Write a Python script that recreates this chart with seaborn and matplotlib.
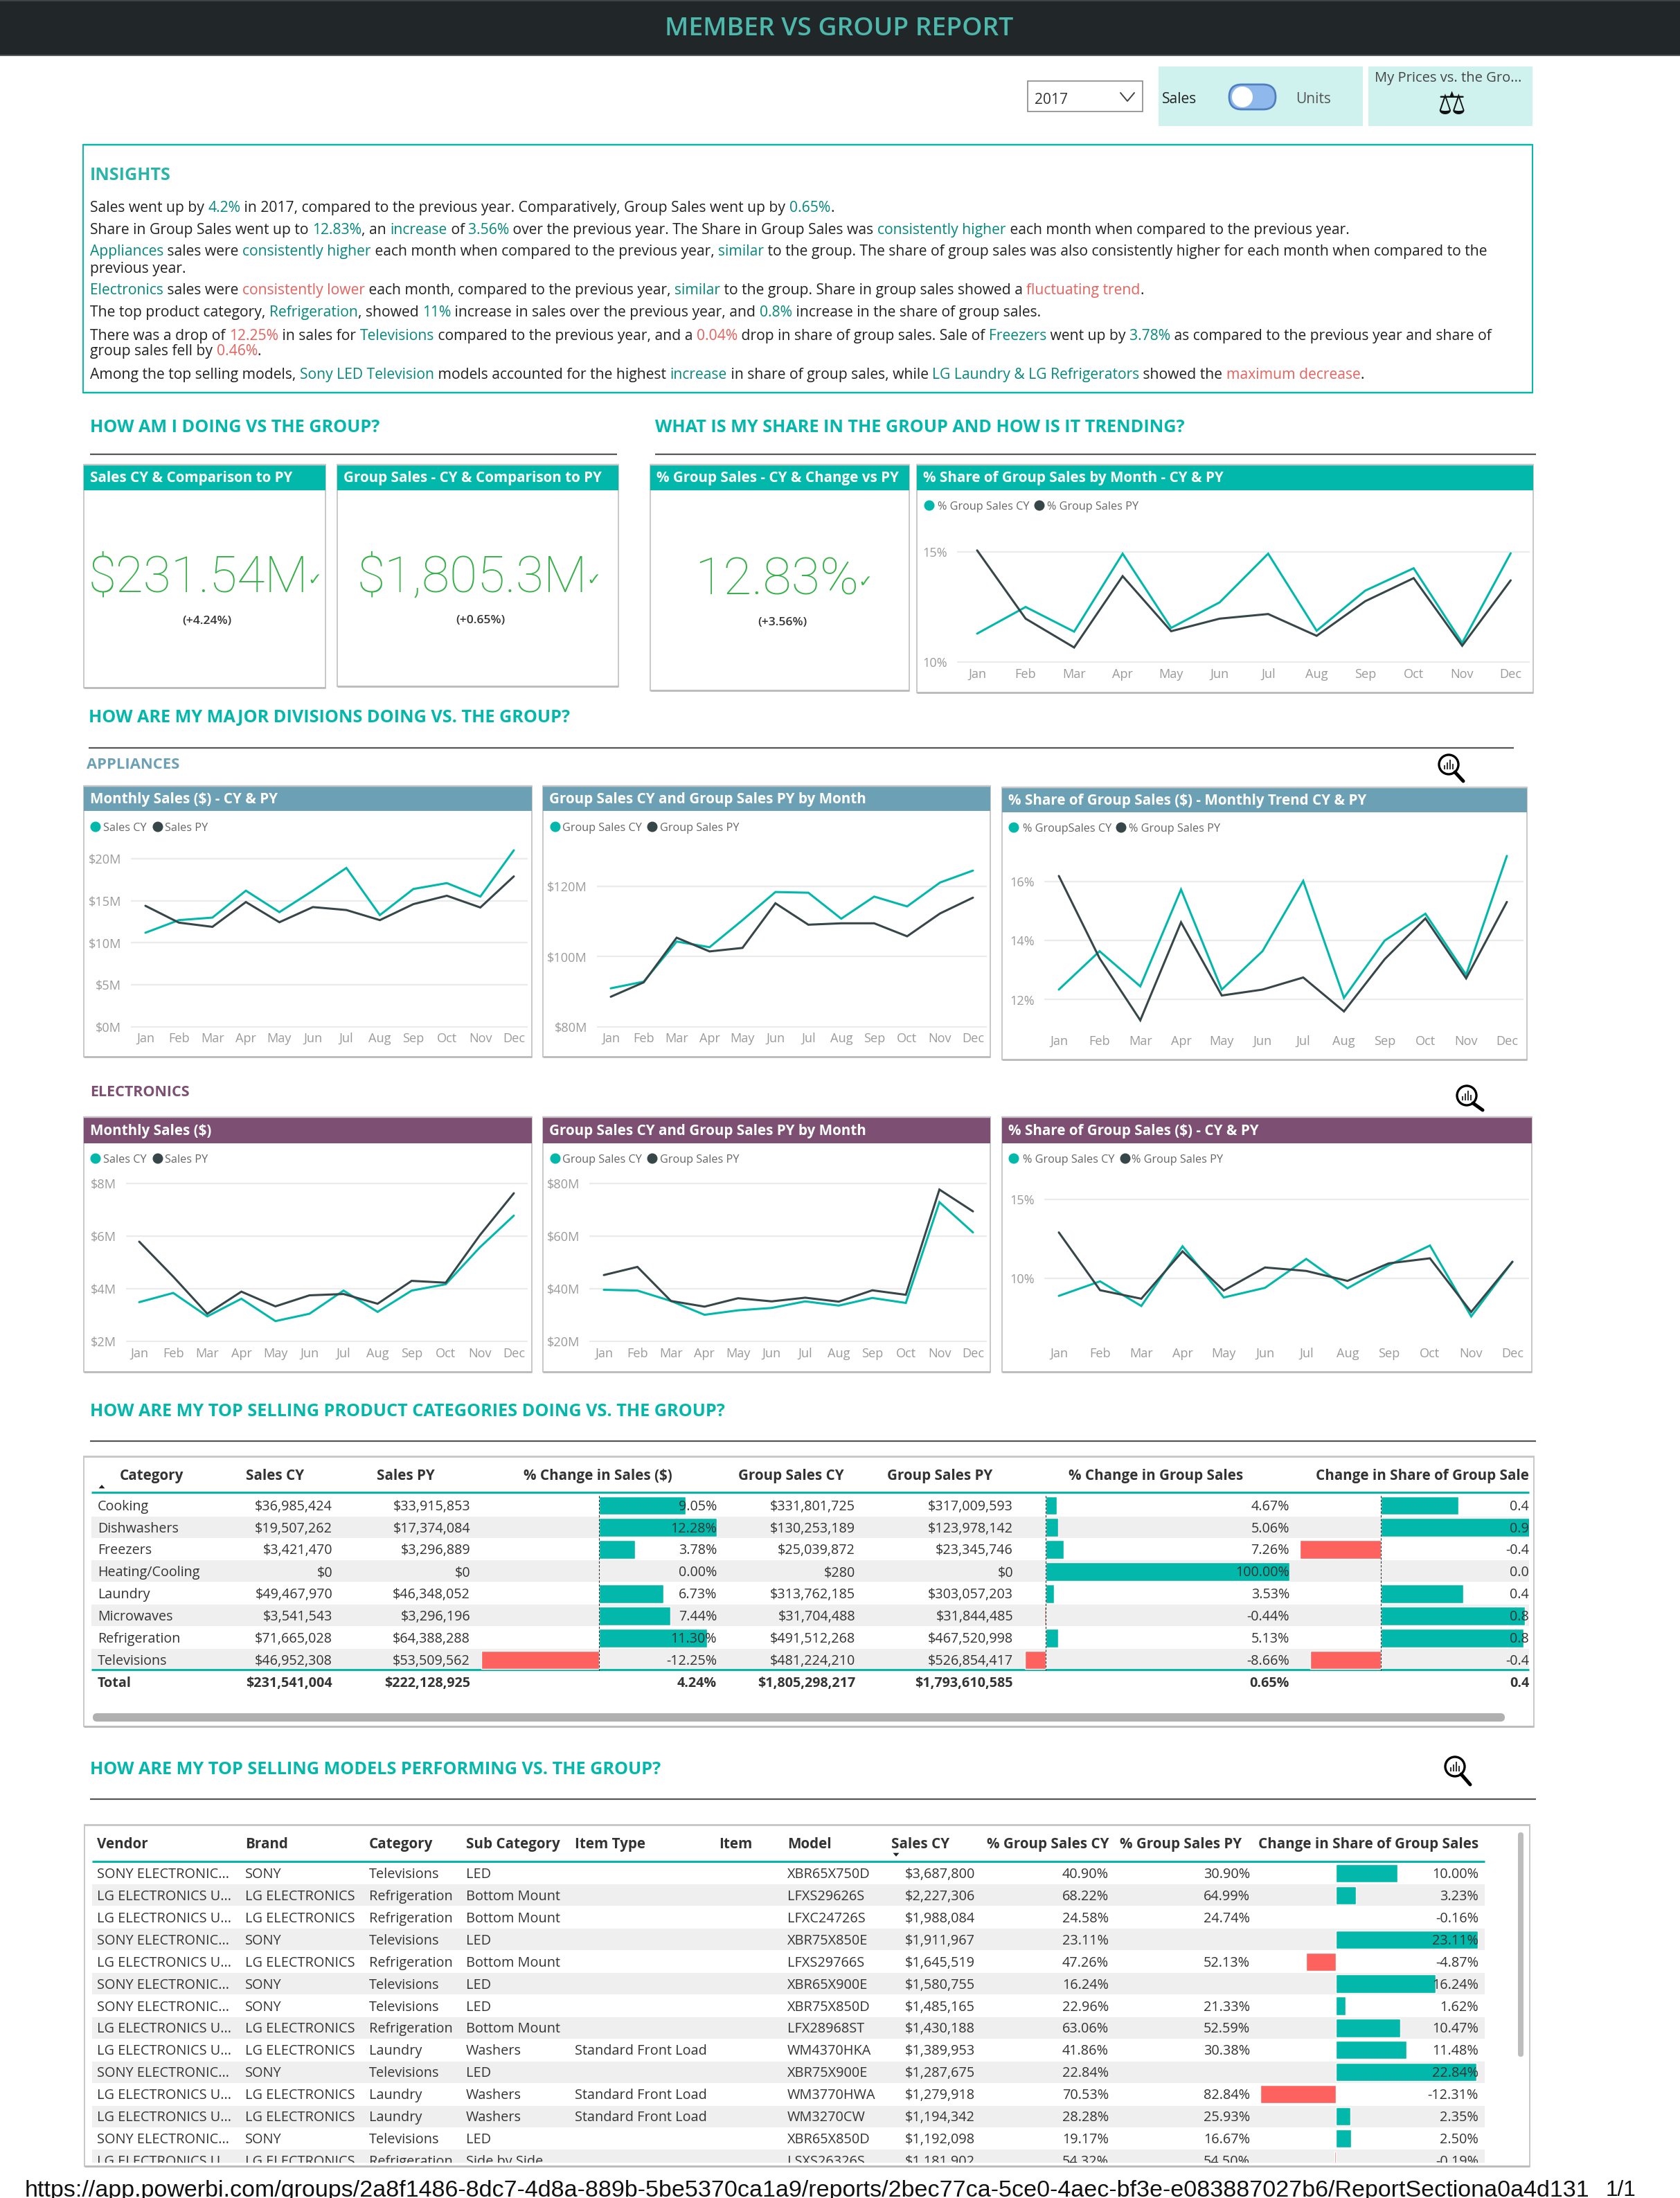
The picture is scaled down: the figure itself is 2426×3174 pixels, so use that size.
import re
import pandas as pd
import matplotlib
matplotlib.use("Agg")
import matplotlib.pyplot as plt
from matplotlib.font_manager import FontProperties
from matplotlib.patches import Rectangle, Circle, FancyBboxPatch, Polygon
import seaborn as sns

MONTHS = ["Jan","Feb","Mar","Apr","May","Jun","Jul","Aug","Sep","Oct","Nov","Dec"]

SHARE_CY = [11.29,12.5,11.38,14.92,11.55,12.71,14.92,11.42,13.24,14.26,10.87,14.94]
SHARE_PY = [15.07,11.97,10.66,13.9,11.4,11.97,12.18,11.19,12.76,13.81,10.74,13.71]
APP_SALES_CY = [11.2,12.7,13.0,16.2,13.65,16.2,18.9,13.3,16.4,17.1,15.5,21.0]
APP_SALES_PY = [14.4,12.4,11.9,14.85,12.45,14.25,13.9,12.7,14.6,15.6,14.2,17.9]
APP_GROUP_CY = [91.0,92.9,104.3,102.7,110.4,118.4,118.2,110.8,117.1,114.3,121.1,124.5]
APP_GROUP_PY = [88.6,92.7,105.4,101.5,102.5,115.2,109.1,109.5,109.5,105.8,112.3,116.8]
APP_SHARE_CY = [12.34,13.64,12.45,15.73,12.34,13.64,16.02,12.06,14.0,14.91,12.84,16.87]
APP_SHARE_PY = [16.19,13.4,11.3,14.62,12.14,12.34,12.75,11.6,13.37,14.75,12.72,15.31]
ELE_SALES_CY = [3.49,3.84,2.95,3.62,2.77,3.05,3.93,3.12,3.93,4.17,5.57,6.78]
ELE_SALES_PY = [5.79,4.46,3.05,3.89,3.33,3.75,3.8,3.43,4.3,4.23,6.03,7.63]
ELE_GROUP_CY = [39.6,39.3,35.35,30.1,31.8,32.7,35.2,33.6,36.5,34.6,72.9,61.4]
ELE_GROUP_PY = [45.2,48.3,35.35,33.2,36.4,35.2,36.6,35.1,39.4,37.7,77.7,69.4]
ELE_SHARE_CY = [8.89,9.81,8.25,12.03,8.79,9.4,11.23,9.37,10.83,12.08,7.59,11.05]
ELE_SHARE_PY = [12.91,9.25,8.71,11.71,9.23,10.69,10.47,9.84,10.95,11.27,7.87,11.05]

CATS = ["Cooking","Dishwashers","Freezers","Heating/Cooling","Laundry","Microwaves","Refrigeration","Televisions"]
CAT_SALES_CY = ["$36,985,424","$19,507,262","$3,421,470","$0","$49,467,970","$3,541,543","$71,665,028","$46,952,308"]
CAT_SALES_PY = ["$33,915,853","$17,374,084","$3,296,889","$0","$46,348,052","$3,296,196","$64,388,288","$53,509,562"]
CAT_GROUP_CY = ["$331,801,725","$130,253,189","$25,039,872","$280","$313,762,185","$31,704,488","$491,512,268","$481,224,210"]
CAT_GROUP_PY = ["$317,009,593","$123,978,142","$23,345,746","$0","$303,057,203","$31,844,485","$467,520,998","$526,854,417"]
CAT_CHG = [9.05,12.28,3.78,0.0,6.73,7.44,11.30,-12.25]
CAT_GCHG = [4.67,5.06,7.26,100.0,3.53,-0.44,5.13,-8.66]
CAT_SHARE = [0.44,0.94,-0.46,0.0,0.47,0.82,0.81,-0.40]
CAT_SHARE_TXT = ["0.4","0.9","-0.4","0.0","0.4","0.8","0.8","-0.4"]
CAT_TOTAL = ["Total","$231,541,004","$222,128,925","4.24%","$1,805,298,217","$1,793,610,585","0.65%","0.4"]

SONY, LG = "SONY ELECTRONIC...", "LG ELECTRONICS U..."
M_VENDOR = [SONY,LG,LG,SONY,LG,SONY,SONY,LG,LG,SONY,LG,LG,SONY,LG]
M_BRAND = ["SONY" if v == SONY else "LG ELECTRONICS" for v in M_VENDOR]
M_CAT = ["Televisions","Refrigeration","Refrigeration","Televisions","Refrigeration","Televisions","Televisions",
         "Refrigeration","Laundry","Televisions","Laundry","Laundry","Televisions","Refrigeration"]
M_SUB = ["LED","Bottom Mount","Bottom Mount","LED","Bottom Mount","LED","LED","Bottom Mount","Washers","LED",
         "Washers","Washers","LED","Side by Side"]
M_TYPE = ["","","","","","","","","Standard Front Load","","Standard Front Load","Standard Front Load","",""]
M_MODEL = ["XBR65X750D","LFXS29626S","LFXC24726S","XBR75X850E","LFXS29766S","XBR65X900E","XBR75X850D","LFX28968ST",
           "WM4370HKA","XBR75X900E","WM3770HWA","WM3270CW","XBR65X850D","LSXS26326S"]
M_SALES = ["$3,687,800","$2,227,306","$1,988,084","$1,911,967","$1,645,519","$1,580,755","$1,485,165","$1,430,188",
           "$1,389,953","$1,287,675","$1,279,918","$1,194,342","$1,192,098","$1,181,902"]
M_CY = ["40.90%","68.22%","24.58%","23.11%","47.26%","16.24%","22.96%","63.06%","41.86%","22.84%","70.53%","28.28%","19.17%","54.32%"]
M_PY = ["30.90%","64.99%","24.74%","","52.13%","","21.33%","52.59%","30.38%","","82.84%","25.93%","16.67%","54.50%"]
M_CHG = [10.00,3.23,-0.16,23.11,-4.87,16.24,1.62,10.47,11.48,22.84,-12.31,2.35,2.50,-0.19]

INSIGHTS = [
 (298.5,"Sales went up by {t:4.2%} in 2017, compared to the previous year. Comparatively, Group Sales went up by {t:0.65%}."),
 (330,"Share in Group Sales went up to {t:12.83%}, an {t:increase} of {t:3.56%} over the previous year. The Share in Group Sales was {t:consistently higher} each month when compared to the previous year."),
 (361.5,"{t:Appliances} sales were {t:consistently higher} each month when compared to the previous year, {t:similar} to the group. The share of group sales was also consistently higher for each month when compared to the"),
 (386,"previous year."),
 (417,"{t:Electronics} sales were {r:consistently lower} each month, compared to the previous year, {t:similar} to the group. Share in group sales showed a {r:fluctuating trend}."),
 (449.5,"The top product category, {t:Refrigeration}, showed {t:11%} increase in sales over the previous year, and {t:0.8%} increase in the share of group sales."),
 (483,"There was a drop of {r:12.25%} in sales for {t:Televisions} compared to the previous year, and a {r:0.04%} drop in share of group sales. Sale of {t:Freezers} went up by {t:3.78%} as compared to the previous year and share of"),
 (505,"group sales fell by {r:0.46%}."),
 (539.5,"Among the top selling models, {t:Sony LED Television} models accounted for the highest {t:increase} in share of group sales, while {t:LG Laundry & LG Refrigerators} showed the {r:maximum decrease}."),
]
URL = "https://app.powerbi.com/groups/2a8f1486-8dc7-4d8a-889b-5be5370ca1a9/reports/2bec77ca-5ce0-4aec-bf3e-e083887027b6/ReportSectiona0a4d131"

TEAL, DARK, RED = "#01B8AA", "#374649", "#FD625E"
INK_T, INK_R = "#05897F", "#E8615D"
BLUE, PURPLE = "#6CA0B4", "#7D4F73"
BAND, EDGE = "#EFEFEF", "#C8C8C8"
FONT = "Open Sans"

sns.set_theme(style="white")
plt.rcParams["font.family"] = [FONT, "DejaVu Sans"]

W, H = 2426, 3174
fig = plt.figure(figsize=((W + 0.01) / 100, (H + 0.01) / 100), dpi=100, facecolor="white")
R = fig.canvas.get_renderer()

def full_axes(z):
    a = fig.add_axes([0, 0, 1, 1], zorder=z)
    a.set_xlim(0, W); a.set_ylim(H, 0); a.axis("off"); a.patch.set_alpha(0)
    return a

bg, fg = full_axes(0), full_axes(10)

def px_axes(l, t, r, b, z=2):
    a = fig.add_axes([l / W, 1 - b / H, (r - l) / W, (b - t) / H], zorder=z)
    a.patch.set_alpha(0)
    return a

def fprop(size, weight="normal", family=FONT):
    return FontProperties(family=family, weight=weight, size=size * 0.72)

def tw(s, size, weight="normal", family=FONT):
    p = fprop(size, weight, family)
    w1 = R.get_text_width_height_descent(s + "|", p, False)[0]
    w0 = R.get_text_width_height_descent("|", p, False)[0]
    return w1 - w0

def fit(s, width, weight="normal", family=FONT):
    return 40 * width / tw(s, 40, weight, family)

def T(x, y, s, size, color="#333333", ha="left", va="center", weight="normal", family=FONT, ax=None, **kw):
    return (ax or fg).text(x, y + 2, s, fontproperties=fprop(size, weight, family), color=color, ha=ha, va=va,
                           parse_math=False, **kw)

def box(x0, y0, x1, y1, fc="white", ec="none", lw=0, z=1, ax=None):
    (ax or bg).add_patch(Rectangle((x0, y0), x1 - x0, y1 - y0, facecolor=fc, edgecolor=ec, linewidth=lw, zorder=z))

def hline(x0, x1, y, color, lw=2.0, ax=None, z=3):
    (ax or bg).plot([x0, x1], [y, y], color=color, lw=lw * 0.72, solid_capstyle="butt", zorder=z)

def rich(x, y, markup, size):
    for part in re.split(r"(\{[tr]:[^}]*\})", markup):
        if not part:
            continue
        col = "#222222"
        if part.startswith("{t:"):
            part, col = part[3:-1], INK_T
        elif part.startswith("{r:"):
            part, col = part[3:-1], INK_R
        T(x, y, part, size, color=col)
        x += tw(part, size)

# ---- header bar and controls
box(0, 0, W, 80, fc="#212729")
hline(0, W, 1, "#3f4547", 2); hline(0, W, 80, "#555a5c", 2)
T(1212, 40, "MEMBER VS GROUP REPORT", fit("MEMBER VS GROUP REPORT", 503, "semibold"), color="#4DB8AC", ha="center", weight="semibold")
box(1484, 117, 1650, 161, fc="white", ec="#8a8a8a", lw=1.2)
T(1494, 142, "2017", 21, color="#333333")
bg.plot([1618, 1628, 1638], [134, 146, 134], color="#444444", lw=1.4, zorder=3)
box(1673, 96, 1968, 182, fc="#CFF2EF")
box(1976, 96, 2213, 182, fc="#CFF2EF")
T(1678, 141, "Sales", 21, color="#222222")
T(1871, 141, "Units", 21, color="#555555")
bg.add_patch(FancyBboxPatch((1775, 122), 67, 36, boxstyle="round,pad=0,rounding_size=18",
                            facecolor="#8FB8EC", edgecolor="#4F7FBF", linewidth=2, zorder=3))
bg.add_patch(Circle((1794, 140), 15, facecolor="white", edgecolor="none", zorder=4))
T(1985, 111, "My Prices vs. the Gro...", fit("My Prices vs. the Gro...", 212), color="#444444")
T(2096, 150, "\u2696", 46, color="#111111", ha="center", family="DejaVu Sans")

# ---- insights
box(120, 209, 2213, 567, fc="white", ec=TEAL, lw=1.4)
hline(120, 2213, 209, TEAL, 2.5); hline(120, 2213, 567, TEAL, 2.5)
T(130, 251, "INSIGHTS", fit("INSIGHTS", 117, "bold"), color="#2BB5A8", weight="bold")
ins_plain = re.sub(r"\{[tr]:([^}]*)\}", r"\1", INSIGHTS[1][1])
ins_size = fit(ins_plain, 1828)
for y, m in INSIGHTS:
    rich(130, y, m, ins_size)

# ---- section headings
H1 = "HOW AM I DOING VS THE GROUP?"
hs = fit(H1, 420, "bold")
for x, y, s in [(130, 615, H1), (946, 615, "WHAT IS MY SHARE IN THE GROUP AND HOW IS IT TRENDING?"),
                (128, 1034, "HOW ARE MY MAJOR DIVISIONS DOING VS. THE GROUP?"),
                (130, 2036, "HOW ARE MY TOP SELLING PRODUCT CATEGORIES DOING VS. THE GROUP?"),
                (130, 2553, "HOW ARE MY TOP SELLING MODELS PERFORMING VS. THE GROUP?")]:
    T(x, y, s, hs, color=TEAL, weight="bold")
for x0, x1, y in [(130, 891, 656), (946, 2218, 656), (128, 2186, 1080), (130, 2218, 2081), (130, 2218, 2598)]:
    hline(x0, x1, y, "#555555", 2.2)
T(125, 1102, "APPLIANCES", fit("APPLIANCES", 134, "bold"), color=BLUE, weight="bold")
T(130, 1575, "ELECTRONICS", fit("ELECTRONICS", 144, "bold"), color=PURPLE, weight="bold")

def lens(cx, cy, hx, hy):
    bg.add_patch(Circle((cx, cy), 14, facecolor="white", edgecolor="black", linewidth=2.4, zorder=4))
    bg.plot([cx + 9, hx], [cy + 11, hy], color="black", lw=3.6, zorder=4, solid_capstyle="round")
    for i, h in enumerate((6, 10, 14, 8)):
        bg.plot([cx - 6 + i * 4] * 2, [cy + 7, cy + 7 - h], color="#333333", lw=1.5, zorder=5, solid_capstyle="butt")
lens(2092, 1104, 2113, 1128); lens(2118, 1582, 2141, 1603); lens(2101, 2551, 2123, 2577)

# ---- cards
TS = fit("Sales CY & Comparison to PY", 292, "bold")

def card(x0, y0, x1, y1, yb, title, color, ty=None):
    box(x0, y0, x1, y1, fc="white", ec=EDGE, lw=1.4)
    box(x0, y0, x1, yb, fc=color)
    hline(x0, x1, y0, EDGE, 2.5); hline(x0, x1, y1, "#BDBDBD", 3)
    T(x0 + 9, ty or (y0 + yb) / 2 - 1, title, TS, color="white", weight="bold")

card(121, 671, 470, 993, 708, "Sales CY & Comparison to PY", TEAL)
card(487, 671, 893, 991, 708, "Group Sales - CY & Comparison to PY", TEAL)
card(939, 671, 1313, 997, 708, "% Group Sales - CY & Change vs PY", TEAL)
card(1324, 671, 2214, 1000, 708, "% Share of Group Sales by Month - CY & PY", TEAL)

def kpi(x, width, s, check_x, sub, sub_x, sub_y, y=833):
    T(x, y, s, fit(s, width, "light", "Roboto"), color="#36B048", weight="light", family="Roboto")
    T(check_x, y + 2, "\u2713", 24, color="#3AB54A", ha="center", family="DejaVu Sans")
    T(sub_x, sub_y, sub, 17.5, color="#333333", ha="center", weight="semibold")
kpi(128, 318, "$231.54M", 454, "(+4.24%)", 299, 895)
kpi(516, 333, "$1,805.3M", 857, "(+0.65%)", 694, 894)
kpi(1003, 237, "12.83%", 1249, "(+3.56%)", 1130, 897, y=836)

MS = fit("Jan", 26)
LS = fit("% Group Sales CY", 133)

def legend(y, x1, t1, x2, t2, s1, s2):
    for dx, tx, s, c in [(x1, t1, s1, TEAL), (x2, t2, s2, DARK)]:
        fg.add_patch(Circle((dx, y), 7.5, facecolor=c, edgecolor="none"))
        T(tx, y, s, LS, color="#666666")

def line_chart(cy, py, grid, jan_dec, yspan, ref, ticks, fmt, month_y, names):
    gl, gr = grid; xj, xd = jan_dec; yt, yb = yspan
    (v1, p1), (v2, p2) = ref
    ax = px_axes(gl, yt, gr, yb)
    df = pd.DataFrame({"Month": list(range(12)) * 2, "Value": cy + py,
                       "Series": [names[0]] * 12 + [names[1]] * 12})
    sns.lineplot(data=df, x="Month", y="Value", hue="Series", hue_order=list(names),
                 palette=[TEAL, DARK], linewidth=2.2, legend=False, errorbar=None, sort=False, ax=ax)
    for ln in ax.lines:
        ln.set_clip_on(False); ln.set_solid_joinstyle("miter")
    ppx = (xd - xj) / 11
    ax.set_xlim((gl - xj) / ppx, (gr - xj) / ppx)
    per = (v2 - v1) / (p2 - p1)
    ax.set_ylim(v1 + (yb - p1) * per, v1 + (yt - p1) * per)
    ax.set_xticks(range(12)); ax.set_xticklabels(MONTHS)
    ax.set_yticks(ticks); ax.set_yticklabels([fmt.format(t) for t in ticks])
    ax.set_xlabel(""); ax.set_ylabel("")
    for s in ax.spines.values():
        s.set_visible(False)
    ax.grid(False)
    ax.grid(axis="y", color="#EBEBEB", lw=1.6)
    ax.set_axisbelow(True)
    ax.tick_params(axis="x", length=0, pad=(month_y - yb - 9) * 0.72, labelsize=MS * 0.72, labelcolor="#9A9A9A")
    ax.tick_params(axis="y", length=0, pad=14 * 0.72, labelsize=MS * 0.72, labelcolor="#9A9A9A")
    for lb in ax.get_xticklabels() + ax.get_yticklabels():
        lb.set_family(FONT)
    return ax

# overall share
legend(730, 1342, 1354, 1501, 1512, "% Group Sales CY", "% Group Sales PY")
line_chart(SHARE_CY, SHARE_PY, (1382, 2209), (1411, 2181.5), (785, 958), ((15, 797), (10, 956)), [10, 15], "{}%", 974,
           ("% Group Sales CY", "% Group Sales PY"))

# appliances
card(121, 1135, 768, 1526, 1171, "Monthly Sales ($) - CY & PY", BLUE)
card(784, 1135, 1430, 1526, 1171, "Group Sales CY and Group Sales PY by Month", BLUE)
card(1447, 1137, 2205, 1530, 1173, "% Share of Group Sales ($) - Monthly Trend CY & PY", BLUE)
legend(1194, 138, 149, 228, 238, "Sales CY", "Sales PY")
legend(1194, 802, 812, 942, 953, "Group Sales CY", "Group Sales PY")
legend(1195, 1464, 1477, 1619, 1630, "% GroupSales CY", "% Group Sales PY")
line_chart(APP_SALES_CY, APP_SALES_PY, (189, 762), (210, 742), (1225, 1484), ((20, 1240), (0, 1483)),
           [0, 5, 10, 15, 20], "${}M", 1500, ("Sales CY", "Sales PY"))
line_chart(APP_GROUP_CY, APP_GROUP_PY, (862, 1425), (882, 1405), (1225, 1484), ((120, 1280), (80, 1483)),
           [80, 100, 120], "${}M", 1500, ("Group Sales CY", "Group Sales PY"))
line_chart(APP_SHARE_CY, APP_SHARE_PY, (1508, 2200), (1529, 2176), (1225, 1487), ((16, 1273), (12, 1443.5)),
           [12, 14, 16], "{}%", 1504, ("% GroupSales CY", "% Group Sales PY"))

# electronics
card(121, 1613, 768, 1981, 1651, "Monthly Sales ($)", PURPLE)
card(784, 1613, 1430, 1981, 1651, "Group Sales CY and Group Sales PY by Month", PURPLE)
card(1447, 1613, 2212, 1981, 1651, "% Share of Group Sales ($) - CY & PY", PURPLE)
legend(1673, 138, 149, 228, 238, "Sales CY", "Sales PY")
legend(1673, 802, 812, 942, 953, "Group Sales CY", "Group Sales PY")
legend(1673, 1464, 1477, 1625, 1634, "% Group Sales CY", "% Group Sales PY")
line_chart(ELE_SALES_CY, ELE_SALES_PY, (182, 762), (201, 742), (1700, 1938), ((8, 1709), (2, 1937)),
           [2, 4, 6, 8], "${}M", 1955, ("Sales CY", "Sales PY"))
line_chart(ELE_GROUP_CY, ELE_GROUP_PY, (851, 1425), (872, 1405), (1700, 1938), ((80, 1709), (20, 1937)),
           [20, 40, 60, 80], "${}M", 1955, ("Group Sales CY", "Group Sales PY"))
line_chart(ELE_SHARE_CY, ELE_SHARE_PY, (1508, 2208), (1529, 2184), (1700, 1938), ((15, 1732), (10, 1846)),
           [10, 15], "{}%", 1955, ("% Group Sales CY", "% Group Sales PY"))

# ---- data bars
def data_bars(labels, vals, l, r, t, b, ylim, x0_px, ppv, bar_frac=0.84, dash=True):
    ax = px_axes(l, t, r, b, z=3)
    df = pd.DataFrame({"Row": labels, "Value": vals, "Sign": ["pos" if v >= 0 else "neg" for v in vals]})
    sns.barplot(data=df, y="Row", x="Value", hue="Sign", hue_order=["pos", "neg"], order=labels,
                palette={"pos": TEAL, "neg": RED}, dodge=False, width=bar_frac, legend=False,
                orient="h", errorbar=None, saturation=1, ax=ax)
    ax.set_xlim((l - x0_px) / ppv, (r - x0_px) / ppv)
    ax.set_ylim(*ylim)
    ax.axis("off")
    if dash:
        ax.plot([0, 0], [ylim[0], ylim[1]], color="#333333", lw=0.8, ls=(0, (3, 2)), zorder=5)
    return ax

# ---- category table
box(121, 2103, 2215, 2493, fc="white", ec=EDGE, lw=1.4)
hline(121, 2215, 2103, EDGE, 3); hline(121, 2215, 2493, "#BDBDBD", 3)
RS = fit("$36,985,424", 112)
HS = fit("Sales CY", 84, "bold")
ry = [2174, 2205.5, 2237, 2269, 2301, 2333, 2365, 2397]
for i in (1, 3, 5, 7):
    box(132, ry[i] - 15.5, 2208, ry[i] + 15.5, fc=BAND)
hline(132, 2208, 2155, TEAL, 3); hline(132, 2208, 2411, TEAL, 3)
for x, s, ha in [(173, "Category", "left"), (439, "Sales CY", "right"), (628, "Sales PY", "right"),
                 (971, "% Change in Sales ($)", "right"), (1219, "Group Sales CY", "right"),
                 (1433, "Group Sales PY", "right"), (1795, "% Change in Group Sales", "right")]:
    T(x, 2129, s, HS, color="#333333", ha=ha, weight="bold")
clip1 = Rectangle((121, 2103), 2208 - 121, 390, transform=fg.transData)
T(1900, 2129, "Change in Share of Group Sales", HS, weight="bold", clip_on=True).set_clip_path(clip1)
fg.add_patch(Polygon([[141, 2150], [153, 2150], [147, 2143]], facecolor="#222222"))
ax_rows = (7.5, -0.5)
data_bars(CATS, CAT_CHG, 694, 1036, ry[0] - 16, ry[7] + 16, ax_rows, 865, 170 / 12.28)
data_bars(CATS, CAT_GCHG, 1478, 1862, ry[0] - 16, ry[7] + 16, ax_rows, 1510, 3.52)
data_bars(CATS, CAT_SHARE, 1877, 2208, ry[0] - 16, ry[7] + 16, ax_rows, 1994, 254)
for i, y in enumerate(ry):
    T(141, y, CATS[i], RS)
    T(480, y, CAT_SALES_CY[i], RS, ha="right")
    T(679, y, CAT_SALES_PY[i], RS, ha="right")
    T(1035, y, f"{CAT_CHG[i]:.2f}%", RS, ha="right")
    T(1235, y, CAT_GROUP_CY[i], RS, ha="right")
    T(1463, y, CAT_GROUP_PY[i], RS, ha="right")
    T(1862, y, f"{CAT_GCHG[i]:.2f}%", RS, ha="right")
    T(2208, y, CAT_SHARE_TXT[i], RS, ha="right")
ty = 2429
T(141, ty, CAT_TOTAL[0], RS, weight="bold")
for x, s in zip([480, 679, 1035, 1235, 1463, 1862, 2208], CAT_TOTAL[1:]):
    T(x, ty, s, RS, ha="right", weight="bold")
bg.add_patch(FancyBboxPatch((134, 2474), 2039, 12, boxstyle="round,pad=0,rounding_size=6", facecolor="#B0B0B0", edgecolor="none", zorder=3))

# ---- models table
box(122, 2635, 2209, 3128, fc="white", ec=EDGE, lw=1.4)
hline(122, 2209, 2635, EDGE, 3); hline(122, 2209, 3128, "#BDBDBD", 3)
RM = fit("$3,687,800", 101)
my0, mstep = 2705, 31.92
for i in range(1, 14, 2):
    box(133, my0 + i * mstep - 15.5, 2144, min(my0 + i * mstep + 15.5, 3123), fc=BAND)
hline(133, 2144, 2688, TEAL, 3)
for x, s, ha in [(140, "Vendor", "left"), (354, "Brand", "left"), (533, "Category", "left"), (673, "Sub Category", "left"),
                 (830, "Item Type", "left"), (1038, "Item", "left"), (1137, "Model", "left"), (1287, "Sales CY", "left"),
                 (1601, "% Group Sales CY", "right"), (1793, "% Group Sales PY", "right"),
                 (2135, "Change in Share of Group Sales", "right")]:
    T(x, 2661, s, HS, ha=ha, weight="bold")
fg.add_patch(Polygon([[1288, 2675], [1300, 2675], [1294, 2682]], facecolor="#222222"))
data_bars(M_MODEL, M_CHG, 1821, 2135, my0 - 16, 3123, ((3123 - my0) / mstep, -0.5), 1929, 8.87, bar_frac=0.82, dash=False)
dash_ax = px_axes(1929, my0 - 16, 1930, 3123, z=3)
dash_ax.axis("off")
dash_ax.axvline(0.5, color="#333333", lw=0.7, ls=(0, (3, 2)))
clip2 = Rectangle((122, 2635), 2087, 3123 - 2635, transform=fg.transData)
for i in range(14):
    y = my0 + i * mstep
    row = [(140, M_VENDOR[i], "left"), (354, M_BRAND[i], "left"), (533, M_CAT[i], "left"), (673, M_SUB[i], "left"),
           (830, M_TYPE[i], "left"), (1137, M_MODEL[i], "left"), (1408, M_SALES[i], "right"),
           (1601, M_CY[i], "right"), (1805, M_PY[i], "right"), (2135, f"{M_CHG[i]:.2f}%", "right")]
    for x, s, ha in row:
        if s:
            T(x, y, s, RM, ha=ha, clip_on=True).set_clip_path(clip2)
bg.add_patch(FancyBboxPatch((2192, 2646), 8, 324, boxstyle="round,pad=0,rounding_size=4", facecolor="#BDBDBD", edgecolor="none", zorder=3))

# ---- footer
T(36, 3161, URL, fit(URL, 2254, family="Liberation Sans"), color="#111111", family="Liberation Sans")
T(2319, 3161, "1/1", fit("1/1", 44, family="Liberation Sans"), color="#111111", family="Liberation Sans")

fig.savefig("out.png", dpi=100, facecolor="white")
